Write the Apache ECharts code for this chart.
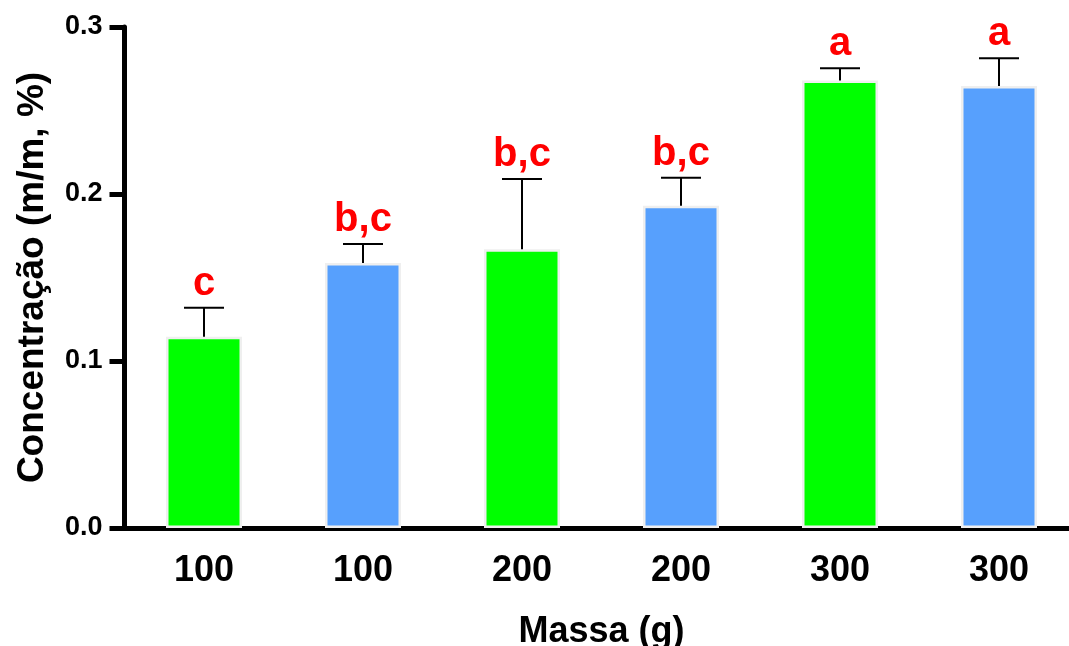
<!DOCTYPE html>
<html>
<head>
<meta charset="utf-8">
<script src="https://cdn.jsdelivr.net/npm/echarts@6/dist/echarts.min.js"></script>
<style>html,body{margin:0;padding:0;background:#fff;}#c{width:1069px;height:646px;}</style>
</head>
<body>
<div id="c"></div>
<script>
const categories = ['100', '100', '200', '200', '300', '300'];
const means = [0.1145, 0.1587, 0.1669, 0.1930, 0.2679, 0.2647];
const errTops = [0.1319, 0.1700, 0.2090, 0.2098, 0.2753, 0.2813];
const letters = ['c', 'b,c', 'b,c', 'b,c', 'a', 'a'];
const barColors = ['#00ff00', '#57a0fd', '#00ff00', '#57a0fd', '#00ff00', '#57a0fd'];
const yTicks = [0, 0.1, 0.2, 0.3];

const FONT = '"Liberation Sans", Arial, sans-serif';
const chart = echarts.init(document.getElementById('c'));
chart.setOption({
  animation: false,
  backgroundColor: '#fff',
  grid: { left: 124.5, top: 27, width: 954, bottom: 118, containLabel: false, outerBoundsMode: 'none' },
  xAxis: {
    type: 'category',
    data: categories,
    name: 'Massa (g)',
    nameLocation: 'middle',
    nameGap: 86,
    nameTextStyle: { fontFamily: FONT, fontWeight: 'bold', fontSize: 36, color: '#000' },
    axisLine: { lineStyle: { color: '#000', width: 5 } },
    axisTick: { alignWithLabel: true, length: 15, lineStyle: { color: '#000', width: 5 } },
    axisLabel: { fontFamily: FONT, fontWeight: 'bold', fontSize: 36, color: '#000', margin: 25 },
    splitLine: { show: false }
  },
  yAxis: {
    type: 'value',
    min: yTicks[0],
    max: yTicks[yTicks.length - 1],
    interval: 0.1,
    name: 'Concentração (m/m, %)',
    nameLocation: 'middle',
    nameGap: 73,
    nameTextStyle: { fontFamily: FONT, fontWeight: 'bold', fontSize: 37, color: '#000' },
    axisLine: { show: true, lineStyle: { color: '#000', width: 5 } },
    axisTick: { show: true, length: 15, lineStyle: { color: '#000', width: 5 } },
    axisLabel: { fontFamily: FONT, fontWeight: 'bold', fontSize: 27, color: '#000', margin: 22,
      formatter: v => v.toFixed(1) },
    splitLine: { show: false }
  },
  series: [
    {
      type: 'bar',
      barWidth: 76,
      data: means.map((v, i) => ({ value: v, itemStyle: { color: barColors[i] } })),
      itemStyle: { borderColor: '#efefef', borderWidth: 2.5 },
      z: 2
    },
    {
      type: 'custom',
      z: 5,
      data: means.map((m, i) => [i, m, errTops[i]]),
      renderItem: function (params, api) {
        const i = api.value(0);
        const base = api.coord([i, api.value(1)]);
        const top = api.coord([i, api.value(2)]);
        const half = 20;
        return {
          type: 'group',
          children: [
            { type: 'line', shape: { x1: base[0], y1: base[1], x2: top[0], y2: top[1] },
              style: { stroke: '#000', lineWidth: 2 } },
            { type: 'line', shape: { x1: top[0] - half, y1: top[1], x2: top[0] + half, y2: top[1] },
              style: { stroke: '#000', lineWidth: 2 } },
            { type: 'text', x: top[0], y: top[1] - 4,
              style: { text: letters[i], fill: '#ff0000', font: 'bold 40px ' + FONT,
                textAlign: 'center', textVerticalAlign: 'bottom' } }
          ]
        };
      }
    }
  ]
});
</script>
</body>
</html>
